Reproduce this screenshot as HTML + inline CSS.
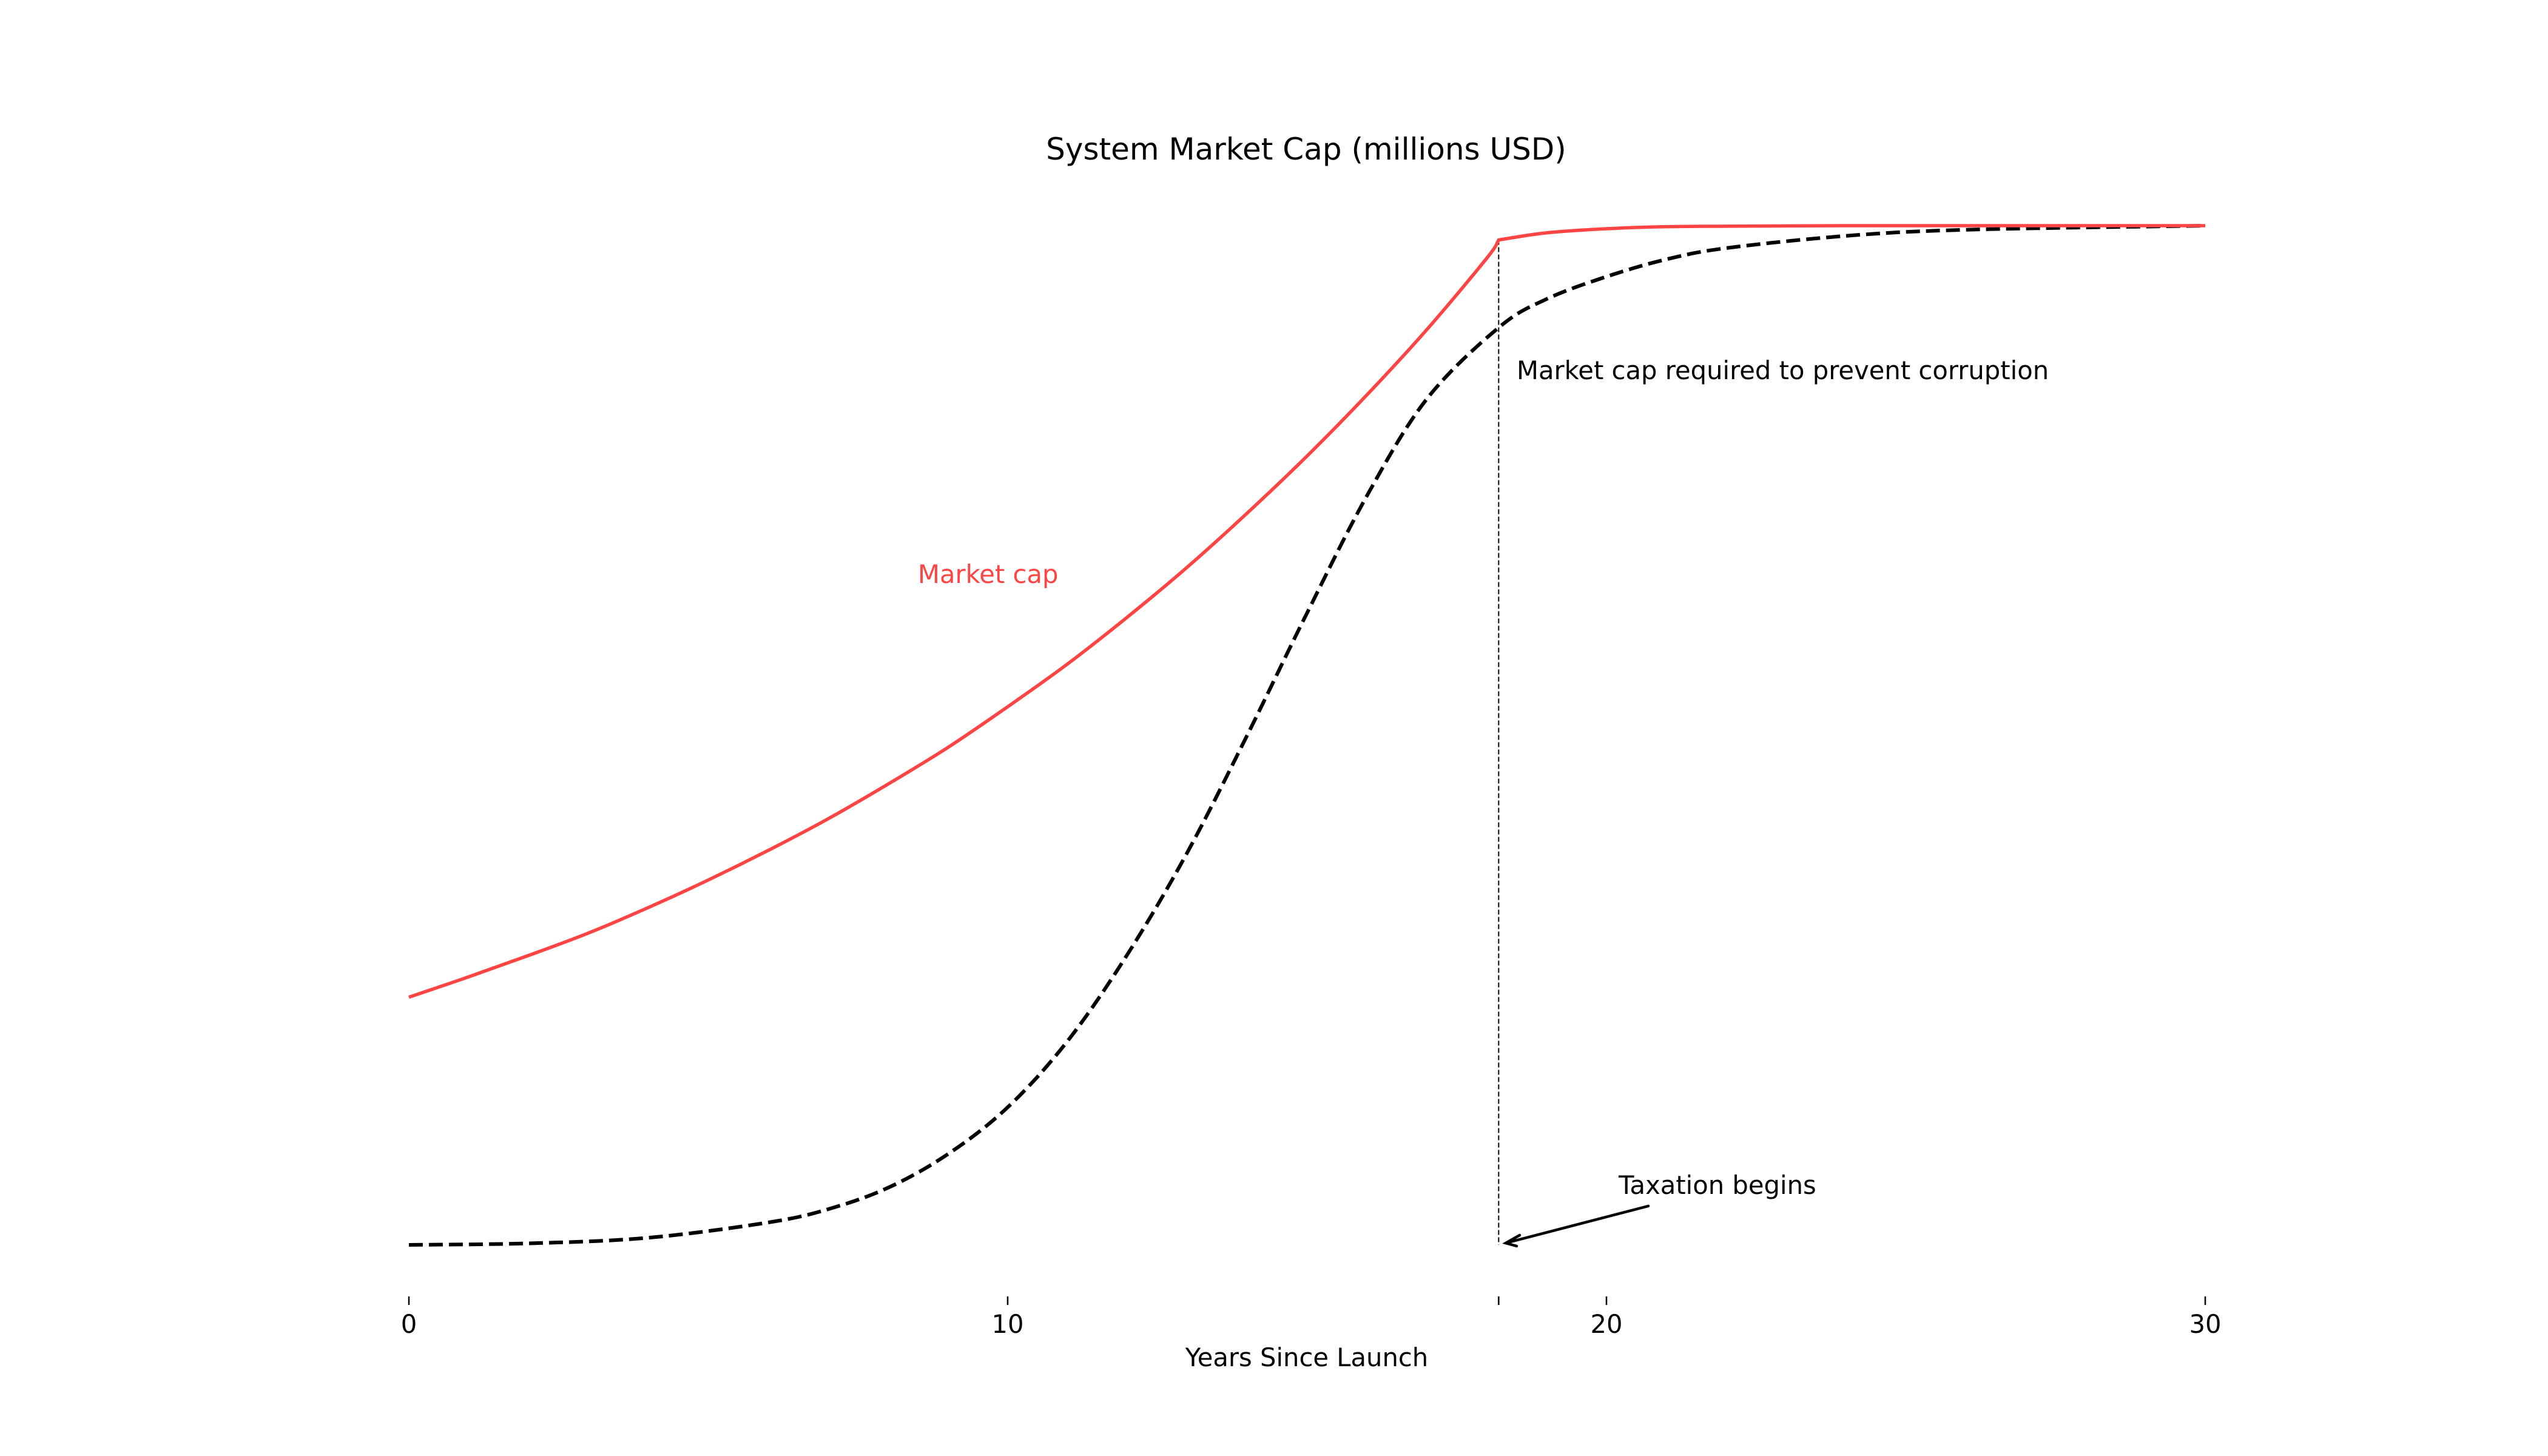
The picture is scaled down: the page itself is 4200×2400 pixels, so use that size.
<!DOCTYPE html>
<html><head><meta charset="utf-8"><style>
html,body{margin:0;padding:0;background:#fff;}
svg{display:block;font-family:"DejaVu Sans","Liberation Sans",sans-serif;}
</style></head><body>
<svg id="chart" width="4200" height="2400" viewBox="0 0 4200 2400" xmlns="http://www.w3.org/2000/svg">
<rect width="4200" height="2400" fill="#fff"/>
<text x="2153" y="263" font-size="50" text-anchor="middle">System Market Cap (millions USD)</text>
<g id="ticks"></g>
<g id="series"></g>
<text x="2154" y="2252" font-size="41.7" text-anchor="middle">Years Since Launch</text>
<text x="1513" y="961" font-size="41.7" fill="#ff4444">Market cap</text>
<text x="2500" y="625" font-size="41.7">Market cap required to prevent corruption</text>
<text x="2668" y="1968" font-size="41.7">Taxation begins</text>
<g stroke="#000" stroke-width="4.5" fill="none" stroke-linecap="round">
<line x1="2717" y1="1988" x2="2482" y2="2049"/>
<polyline points="2505,2036 2482,2049 2500,2054"/>
</g>
</svg>
<script>
const xTicks = [0, 10, 20, 30];
const taxYear = 18.2;
const redYears = [0,1,2,3,4,5,6,7,8,9,10,11,12,13,14,15,16,17,18,18.2];
const redValues = [24.3,26.3,28.4,30.6,33.1,35.8,38.7,41.8,45.2,48.8,52.8,57.0,61.6,66.5,71.8,77.4,83.4,89.8,96.8,98.6];
const redTailYears = [18.2,19,20,21,22,24,26,30];
const redTailValues = [98.6,99.3,99.7,99.9,99.95,100,100,100];
const blackYears = [0,2,4,6,7,8,9,10,11,12,13,14,15,16,17,18.2,19,20,21,22,24,26,30];
const blackValues = [0,0.15,0.7,2.2,3.5,5.6,8.9,13.5,20,28.5,38.5,50,62,73.5,83,90,92.8,95,96.7,97.8,99,99.6,100];

const NS = "http://www.w3.org/2000/svg";
function xs(v){ return 674 + v * 98.7; }
function ys(v){ return 2052 - v * 16.8; }
function smoothPath(xa, ya){
  const p = xa.map((x,i)=>[xs(x), ys(ya[i])]);
  let d = "M" + p[0][0] + "," + p[0][1];
  for (let i=0;i<p.length-1;i++){
    const p0=p[Math.max(0,i-1)], p1=p[i], p2=p[i+1], p3=p[Math.min(p.length-1,i+2)];
    const c1=[p1[0]+(p2[0]-p0[0])/6, p1[1]+(p2[1]-p0[1])/6];
    const c2=[p2[0]-(p3[0]-p1[0])/6, p2[1]-(p3[1]-p1[1])/6];
    d += " C"+c1[0]+","+c1[1]+" "+c2[0]+","+c2[1]+" "+p2[0]+","+p2[1];
  }
  return d;
}
const tg = document.getElementById('ticks');
xTicks.forEach(t=>{
  const l=document.createElementNS(NS,'line');
  l.setAttribute('x1',xs(t)); l.setAttribute('x2',xs(t));
  l.setAttribute('y1',2137); l.setAttribute('y2',2151);
  l.setAttribute('stroke','#000'); l.setAttribute('stroke-width','2.5');
  
  
  tg.appendChild(l);
  const tx=document.createElementNS(NS,'text');
  tx.setAttribute('x',xs(t)); tx.setAttribute('y',2197);
  tx.setAttribute('font-size','41.7'); tx.setAttribute('text-anchor','middle');
  tx.textContent=t;
  
  
  tg.appendChild(tx);
});
const tt=document.createElementNS(NS,'line');
tt.setAttribute('x1',xs(taxYear)); tt.setAttribute('x2',xs(taxYear));
tt.setAttribute('y1',2137); tt.setAttribute('y2',2151);
tt.setAttribute('stroke','#000'); tt.setAttribute('stroke-width','2.5');


tg.appendChild(tt);

const sg = document.getElementById('series');
const vl=document.createElementNS(NS,'line');
vl.setAttribute('x1',xs(taxYear)); vl.setAttribute('x2',xs(taxYear));
vl.setAttribute('y1',ys(redValues[redValues.length-1])); vl.setAttribute('y2',2052);
vl.setAttribute('stroke','#000'); vl.setAttribute('stroke-width','2');
vl.setAttribute('stroke-dasharray','8,4');


sg.appendChild(vl);

const bp=document.createElementNS(NS,'path');
bp.setAttribute('d',smoothPath(blackYears,blackValues));
bp.setAttribute('fill','none'); bp.setAttribute('stroke','#000');
bp.setAttribute('stroke-width','6'); bp.setAttribute('stroke-dasharray','23,10');


sg.appendChild(bp);

const rp=document.createElementNS(NS,'path');
rp.setAttribute('d',smoothPath(redYears,redValues)+" "+smoothPath(redTailYears,redTailValues).replace(/^M/,"L"));
rp.setAttribute('fill','none'); rp.setAttribute('stroke','#ff4444');
rp.setAttribute('stroke-width','5.5'); rp.setAttribute('stroke-linejoin','miter');


sg.appendChild(rp);
</script>
</body></html>
